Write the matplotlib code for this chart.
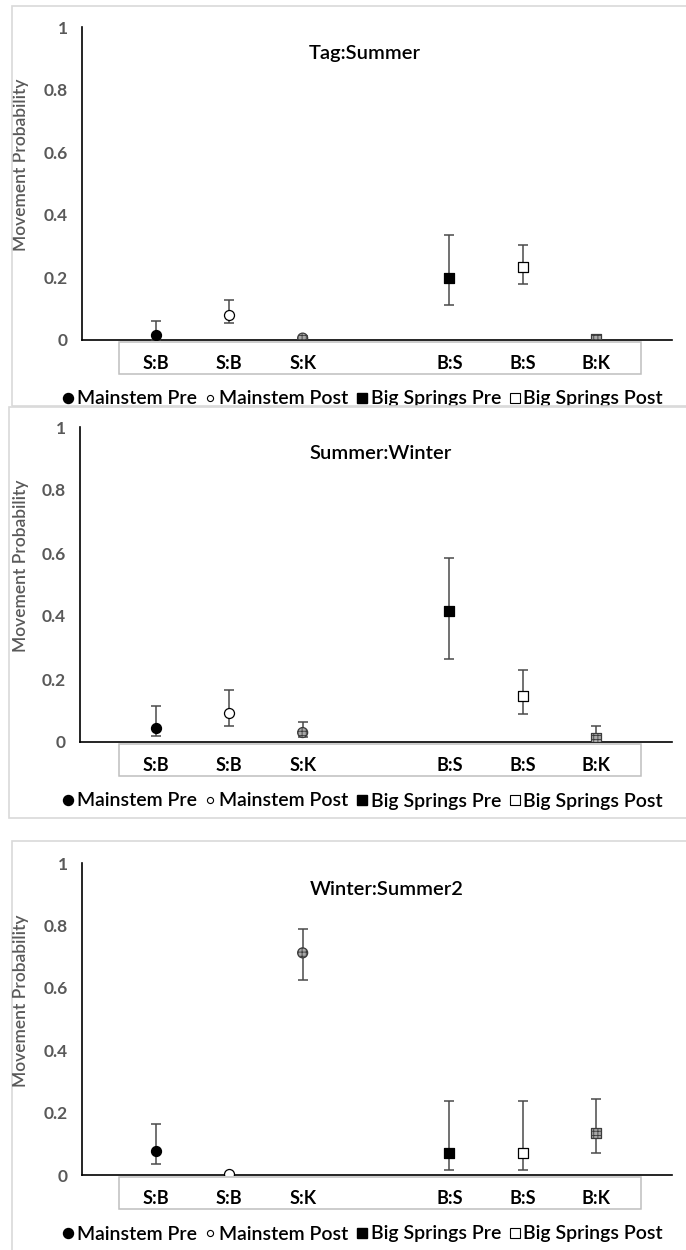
import matplotlib.pyplot as plt
from matplotlib.lines import Line2D
from matplotlib.patches import Rectangle

plt.rcParams['font.family'] = ['Lato', 'DejaVu Sans']
plt.rcParams['hatch.linewidth'] = 0.6

# Data
categories = ['S:B', 'S:B', 'S:K', 'B:S', 'B:S', 'B:K']
series = ['Mainstem Pre', 'Mainstem Post', 'Big Springs Pre', 'Big Springs Post']
titles = ['Tag:Summer', 'Summer:Winter', 'Winter:Summer2']

tag_summer = [0.017, 0.081, 0.006, 0.198, 0.232, 0.003]
tag_summer_low = [0.0, 0.053, 0.002, 0.112, 0.178, 0.003]
tag_summer_high = [0.062, 0.129, 0.012, 0.334, 0.304, 0.003]

summer_winter = [0.045, 0.092, 0.030, 0.416, 0.145, 0.013]
summer_winter_low = [0.019, 0.051, 0.017, 0.265, 0.088, 0.003]
summer_winter_high = [0.114, 0.166, 0.064, 0.584, 0.228, 0.051]

winter_summer2 = [0.076, 0.003, 0.712, 0.072, 0.072, 0.136]
winter_summer2_low = [0.036, 0.003, 0.625, 0.017, 0.017, 0.072]
winter_summer2_high = [0.164, 0.003, 0.788, 0.238, 0.238, 0.244]

means = [tag_summer, summer_winter, winter_summer2]
lows = [tag_summer_low, summer_winter_low, winter_summer2_low]
highs = [tag_summer_high, summer_winter_high, winter_summer2_high]

# layout in pixels
W, H = 686, 1250
# axes top, axes bottom (y=0), axes left, title centre x
panel_px = [(27, 340, 82, 365), (427, 742, 80, 381), (863, 1175, 82, 387)]
frame_px = [(12, 6, 406), (9, 407, 818), (12, 841, 1252)]
AX_RIGHT = 672
SLOT0, SLOT_W = 156, 73.33

slots = [i + (i >= 3) for i in range(len(categories))]

point_style = [
    dict(marker='o', fc='black', ec='black', hatch=None),
    dict(marker='o', fc='white', ec='black', hatch=None),
    dict(marker='o', fc='#a8a8a8', ec='#3c3c3c', hatch='++++'),
    dict(marker='s', fc='black', ec='black', hatch=None),
    dict(marker='s', fc='white', ec='black', hatch=None),
    dict(marker='s', fc='#a8a8a8', ec='#3c3c3c', hatch='++++'),
]

fig = plt.figure(figsize=(W / 100, H / 100), dpi=100)


def fx(x):
    return x / W


def fy(y):
    return 1 - y / H


# panel frames
for k, (x0, y0, y1) in enumerate(frame_px):
    fig.add_artist(Rectangle((fx(x0), fy(y1)), fx(W + 10 - x0), (y1 - y0) / H,
                             transform=fig.transFigure, facecolor='white' if k else 'none',
                             edgecolor='#d9d9d9', linewidth=1.2, zorder=1))

handles = [
    Line2D([], [], ls='none', marker='o', ms=7.2, mfc='black', mec='black'),
    Line2D([], [], ls='none', marker='o', ms=4.4, mfc='white', mec='black', mew=0.8),
    Line2D([], [], ls='none', marker='s', ms=7.2, mfc='black', mec='black'),
    Line2D([], [], ls='none', marker='s', ms=7.0, mfc='white', mec='black', mew=0.8),
]

for p, (top, bot, left, tx) in enumerate(panel_px):
    ax = fig.add_axes([fx(left), fy(bot), fx(AX_RIGHT - left), (bot - top) / H])
    ax.set_zorder(0 if p == 0 else 2)
    ax.patch.set_visible(False)
    ax.set_xlim((left - SLOT0) / SLOT_W, (AX_RIGHT - SLOT0) / SLOT_W)
    ax.set_ylim(0, 1)
    ax_h = bot - top

    for i, x in enumerate(slots):
        m, lo, hi = means[p][i], lows[p][i], highs[p][i]
        if hi - lo > 0:
            ax.errorbar(x, m, yerr=[[m - lo], [hi - m]], fmt='none', ecolor='#4a4a4a',
                        elinewidth=1.1, capsize=3.8, capthick=1.1, zorder=3)
        st = point_style[i]
        ax.scatter([x], [m], s=7.2 ** 2, marker=st['marker'], facecolor=st['fc'],
                   edgecolor=st['ec'], hatch=st['hatch'], linewidths=0.9, zorder=4)

    for s in ['top', 'right']:
        ax.spines[s].set_visible(False)
    for s in ['left', 'bottom']:
        ax.spines[s].set_linewidth(1.2)
        ax.spines[s].set_color('black')
    ax.set_xticks([])
    ax.set_yticks([0, 0.2, 0.4, 0.6, 0.8, 1.0])
    ax.set_yticklabels(['0', '0.2', '0.4', '0.6', '0.8', '1'])
    ax.tick_params(axis='y', length=0, pad=10, labelsize=12.5, labelcolor='#595959')
    for t in ax.get_yticklabels():
        t.set_fontweight('bold')
    ax.set_ylabel('Movement Probability', fontsize=12.5, color='#595959', fontweight='semibold')
    ax.yaxis.set_label_coords((29 - left) / (AX_RIGHT - left), 0.56)

    # category label box under the axis
    fig.add_artist(Rectangle((fx(119), fy(bot + 34)), fx(641 - 119), 32 / H,
                             transform=fig.transFigure, facecolor='none',
                             edgecolor='#bfbfbf', linewidth=1.1, zorder=3))
    for i, x in enumerate(slots):
        ax.text(x, -29 / ax_h, categories[i], transform=ax.get_xaxis_transform(),
                ha='center', va='baseline', fontsize=13, fontweight='bold', clip_on=False)

    fig.text(fx(tx), fy(top + 32), titles[p], ha='center', va='baseline', fontsize=14.5,
             fontweight='semibold')

    ax.legend(handles, series, loc='center', bbox_to_anchor=(fx(362), fy(bot + 59)),
              bbox_transform=fig.transFigure, ncol=4, frameon=False,
              prop=dict(size=14, weight='semibold'),
              handlelength=0.7, handletextpad=0.1, columnspacing=0.35, borderpad=0,
              borderaxespad=0)

fig.savefig('out.png', dpi=100)
